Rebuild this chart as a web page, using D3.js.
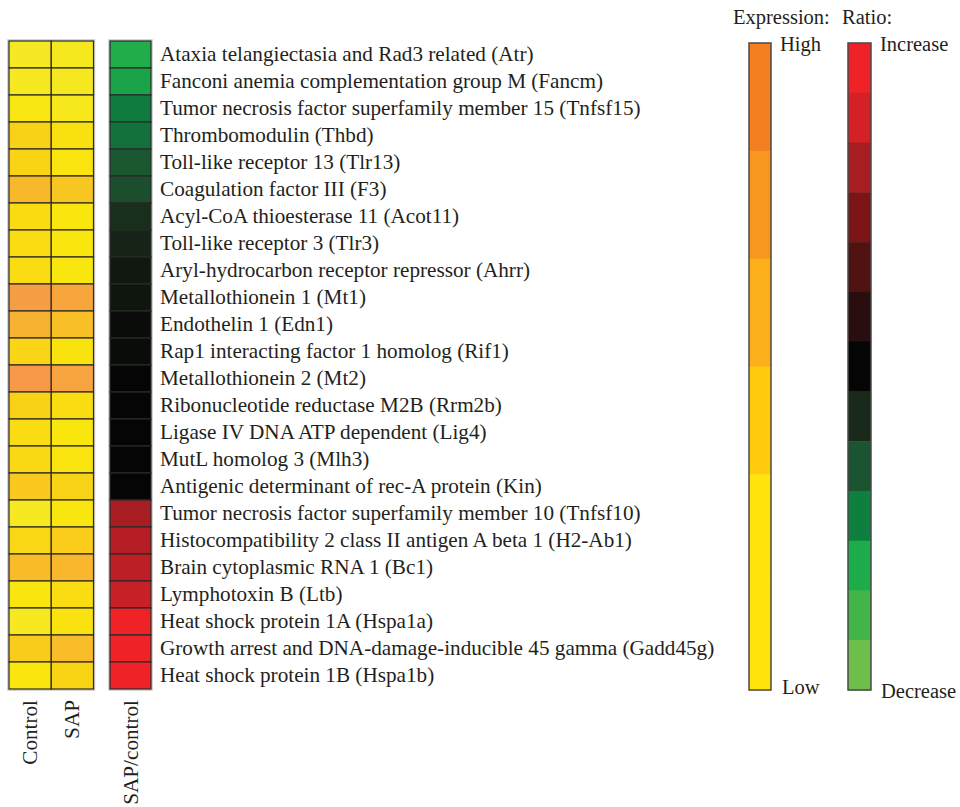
<!DOCTYPE html>
<html>
<head>
<meta charset="utf-8">
<script src="https://cdn.jsdelivr.net/npm/d3@7"></script>
<style>
html,body{margin:0;padding:0;background:#fff;}
svg{display:block;}
</style>
</head>
<body>
<svg id="chart" width="960" height="807"></svg>
<script>
// ---------- data ----------
const genes = [
  "Ataxia telangiectasia and Rad3 related (Atr)",
  "Fanconi anemia complementation group M (Fancm)",
  "Tumor necrosis factor superfamily member 15 (Tnfsf15)",
  "Thrombomodulin (Thbd)",
  "Toll-like receptor 13 (Tlr13)",
  "Coagulation factor III (F3)",
  "Acyl-CoA thioesterase 11 (Acot11)",
  "Toll-like receptor 3 (Tlr3)",
  "Aryl-hydrocarbon receptor repressor (Ahrr)",
  "Metallothionein 1 (Mt1)",
  "Endothelin 1 (Edn1)",
  "Rap1 interacting factor 1 homolog (Rif1)",
  "Metallothionein 2 (Mt2)",
  "Ribonucleotide reductase M2B (Rrm2b)",
  "Ligase IV DNA ATP dependent (Lig4)",
  "MutL homolog 3 (Mlh3)",
  "Antigenic determinant of rec-A protein (Kin)",
  "Tumor necrosis factor superfamily member 10 (Tnfsf10)",
  "Histocompatibility 2 class II antigen A beta 1 (H2-Ab1)",
  "Brain cytoplasmic RNA 1 (Bc1)",
  "Lymphotoxin B (Ltb)",
  "Heat shock protein 1A (Hspa1a)",
  "Growth arrest and DNA-damage-inducible 45 gamma (Gadd45g)",
  "Heat shock protein 1B (Hspa1b)"
];
// relative expression level (0 = low, 100 = high)
const controlExpr = [2, 3, 12, 36, 33, 62, 26, 25, 25, 95, 70, 32, 100, 36, 25, 29, 44, 3, 30, 58, 15, 3, 41, 15];
const sapExpr     = [5, 4, 6, 20, 17, 48, 15, 15, 15, 85, 55, 18, 88, 24, 15, 17, 34, 15, 40, 64, 24, 19, 57, 33];
// log ratio SAP/control (negative = decrease, positive = increase)
const ratioValues = [-4.1, -3.8, -2.9, -2.7, -2.1, -1.85, -1.1, -0.8, -0.5, -0.45, -0.2, -0.2, 0, 0, 0, 0, 0, 4.0, 4.3, 4.5, 4.7, 6, 6, 6];
const columns = ["Control", "SAP"];
const ratioColumn = ["SAP/control"];
const exprStops = [0, 15, 35, 60, 100];
const exprColors = ["#f5e926", "#f9e60e", "#f9d216", "#f8ba2a", "#f69a4a"];
const exprLegendColors = ["#f37f21", "#f7971f", "#fbaf1b", "#ffcb0c", "#ffe30a", "#ffe30a"];
const ratioStops = [6, 5, 4, 3, 2, 1, 0, -1, -2, -3, -4, -5, -6];
const ratioLegendColors = ["#ee2227", "#d42128", "#a81d22", "#7b1517", "#501312", "#2a0d0e", "#050505",
                           "#1a2a1a", "#1b5430", "#0f7f40", "#1eac4b", "#42b549", "#6dbe4b"];

const FONT = "'Liberation Serif', 'Times New Roman', 'DejaVu Serif', serif";
const FS = 21.2;

// ---------- scales ----------
const svg = d3.select("#chart");
const y = d3.scaleBand().domain(genes).range([41, 689]);
const xCols = d3.scaleBand().domain(columns).range([9, 93.5]);
const xRatio = d3.scaleBand().domain(ratioColumn).range([110, 151]);
const exprColor = d3.scaleLinear().domain(exprStops).range(exprColors).interpolate(d3.interpolateRgb);
const ratioColor = d3.scaleLinear().domain(ratioStops).range(ratioLegendColors).interpolate(d3.interpolateRgb);

// ---------- expression heatmap ----------
const cells = [];
genes.forEach((g, i) => {
  cells.push({gene: g, col: "Control", v: controlExpr[i]});
  cells.push({gene: g, col: "SAP", v: sapExpr[i]});
});
svg.append("rect")
  .attr("x", xCols.range()[0] - 1).attr("y", y.range()[0] - 1)
  .attr("width", xCols.range()[1] - xCols.range()[0] + 2)
  .attr("height", y.range()[1] - y.range()[0] + 2)
  .attr("fill", "none").attr("stroke", "#c8c8c8").attr("stroke-width", 1.5);
svg.append("g").selectAll("rect").data(cells).join("rect")
  .attr("x", d => xCols(d.col)).attr("y", d => y(d.gene))
  .attr("width", xCols.bandwidth()).attr("height", y.bandwidth())
  .attr("fill", d => exprColor(d.v))
  .attr("stroke", "#2e2a24").attr("stroke-width", 1.2);

// ---------- ratio heatmap ----------
svg.append("rect")
  .attr("x", xRatio.range()[0] - 1).attr("y", y.range()[0] - 1)
  .attr("width", xRatio.range()[1] - xRatio.range()[0] + 2)
  .attr("height", y.range()[1] - y.range()[0] + 2)
  .attr("fill", "none").attr("stroke", "#c8c8c8").attr("stroke-width", 1.5);
svg.append("g").selectAll("rect").data(genes).join("rect")
  .attr("x", xRatio("SAP/control")).attr("y", d => y(d))
  .attr("width", xRatio.bandwidth()).attr("height", y.bandwidth())
  .attr("fill", (d, i) => ratioColor(ratioValues[i]))
  .attr("stroke", "#2a2a2a").attr("stroke-width", 1.2);

// ---------- gene labels ----------
svg.append("g").selectAll("text").data(genes).join("text")
  .attr("x", 160).attr("y", d => y(d) + y.bandwidth() / 2 + 6)
  .attr("font-family", FONT).attr("fill", "#231f20")
  .attr("font-size", FS)
  .text(d => d);

// ---------- column labels ----------
const colLabels = [
  {t: "Control", x: xCols("Control") + xCols.bandwidth() / 2},
  {t: "SAP", x: xCols("SAP") + xCols.bandwidth() / 2},
  {t: "SAP/control", x: xRatio("SAP/control") + xRatio.bandwidth() / 2}
];
svg.append("g").selectAll("text").data(colLabels).join("text")
  .attr("transform", d => `translate(${d.x + 7},700) rotate(-90)`)
  .attr("text-anchor", "end")
  .attr("font-family", FONT).attr("fill", "#231f20")
  .attr("font-size", FS)
  .text(d => d.t);

// ---------- legends ----------
const yExpLeg = d3.scaleBand().domain(d3.range(exprLegendColors.length)).range([43, 690]);
svg.append("g").selectAll("rect").data(exprLegendColors).join("rect")
  .attr("x", 749).attr("y", (d, i) => yExpLeg(i))
  .attr("width", 22).attr("height", yExpLeg.bandwidth() + 0.5)
  .attr("fill", d => d);
svg.append("rect").attr("x", 749).attr("y", 43).attr("width", 22).attr("height", 647)
  .attr("fill", "none").attr("stroke", "#4a4a4a").attr("stroke-width", 1.5);

const yRatLeg = d3.scaleBand().domain(d3.range(ratioLegendColors.length)).range([43, 690]);
svg.append("g").selectAll("rect").data(ratioLegendColors).join("rect")
  .attr("x", 848).attr("y", (d, i) => yRatLeg(i))
  .attr("width", 23).attr("height", yRatLeg.bandwidth() + 0.5)
  .attr("fill", d => d);
svg.append("rect").attr("x", 848).attr("y", 43).attr("width", 23).attr("height", 647)
  .attr("fill", "none").attr("stroke", "#4a4a4a").attr("stroke-width", 1.5);

const legTexts = [
  {t: "Expression:", x: 733, y: 24},
  {t: "Ratio:", x: 842, y: 24},
  {t: "High", x: 780, y: 51},
  {t: "Increase", x: 880, y: 51},
  {t: "Low", x: 782, y: 694},
  {t: "Decrease", x: 881, y: 698}
];
svg.append("g").selectAll("text").data(legTexts).join("text")
  .attr("x", d => d.x).attr("y", d => d.y)
  .attr("font-family", FONT).attr("fill", "#231f20")
  .attr("font-size", 20.5)
  .text(d => d.t);
</script>
</body>
</html>
